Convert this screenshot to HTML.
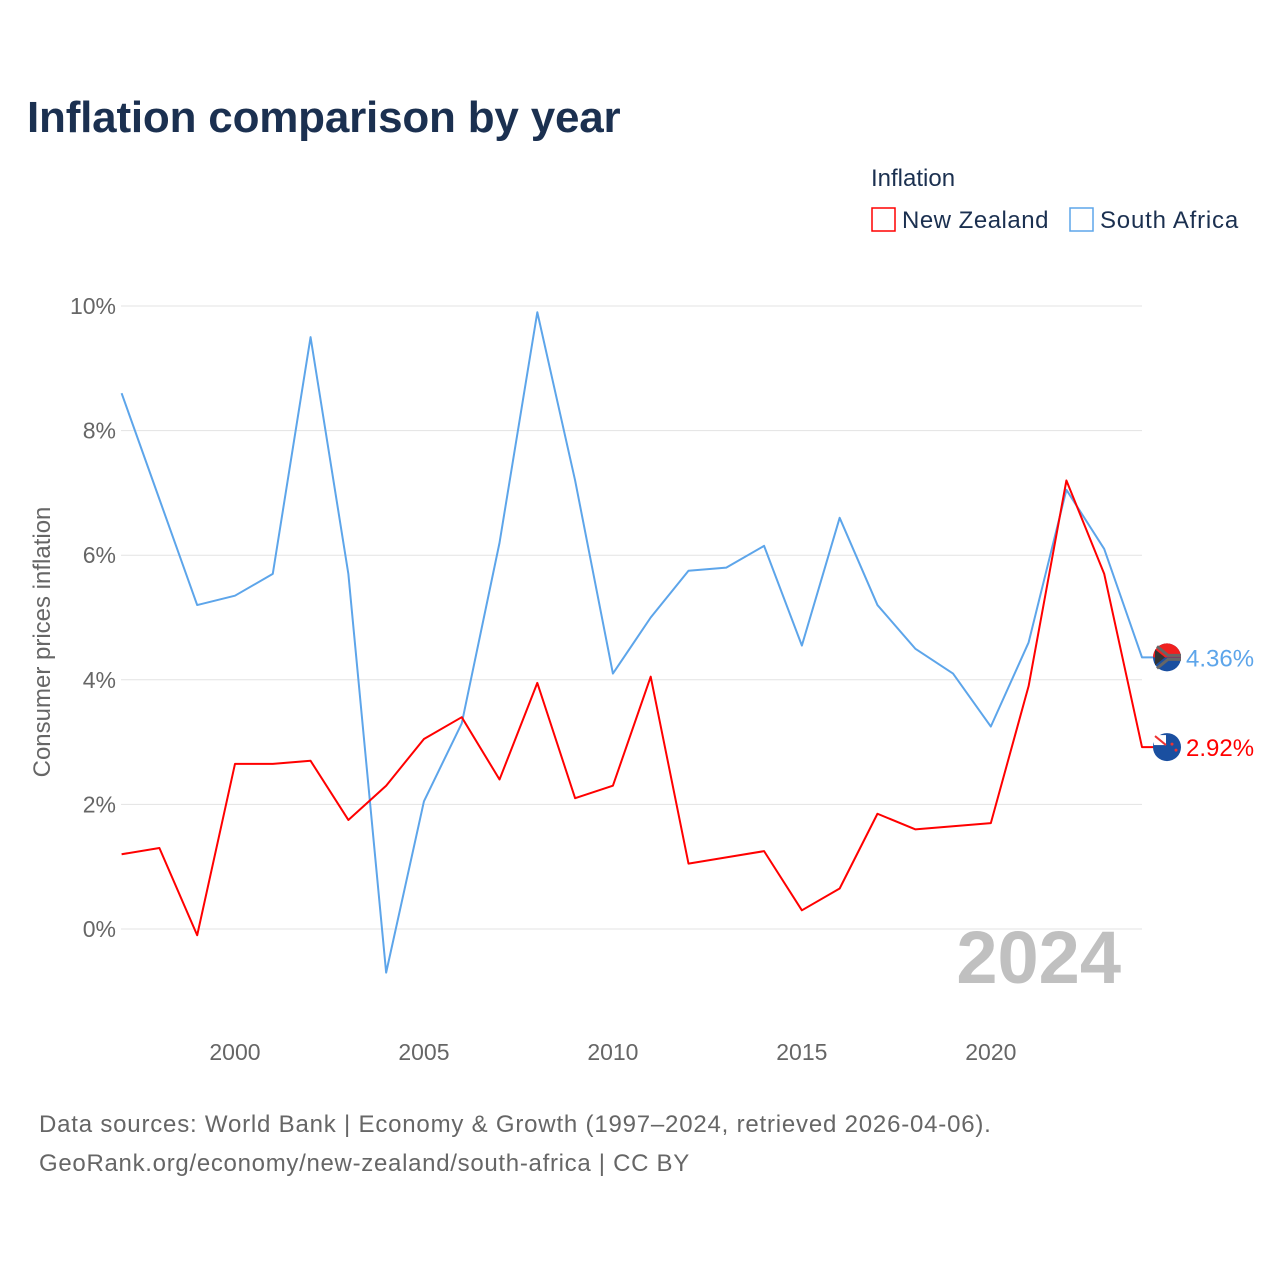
<!DOCTYPE html>
<html><head><meta charset="utf-8"><style>
body{margin:0;background:#fff;font-family:"Liberation Sans",sans-serif;}
</style></head><body>
<svg width="1280" height="1280" viewBox="0 0 1280 1280" xmlns="http://www.w3.org/2000/svg">
<text x="27" y="132" font-size="44" font-weight="bold" fill="#1b3050" letter-spacing="-0.2">Inflation comparison by year</text>
<text x="871" y="186" font-size="24" fill="#1b3050">Inflation</text>
<g><rect x="872" y="208" width="23" height="23" fill="#fff" stroke="#f00" stroke-width="1.5"/><text x="902" y="228" font-size="24" fill="#1b3050" letter-spacing="0.5">New Zealand</text></g>
<g><rect x="1070" y="208" width="23" height="23" fill="#fff" stroke="#5da5ea" stroke-width="1.5"/><text x="1100" y="228" font-size="24" fill="#1b3050" letter-spacing="0.8">South Africa</text></g>
<g id="grid"></g>
<text x="1121" y="983" font-size="74" font-weight="bold" fill="#c0c0c0" text-anchor="end">2024</text>
<text transform="translate(50,642) rotate(-90)" font-size="24" fill="#666" text-anchor="middle">Consumer prices inflation</text>
<g id="series"></g>
<text x="39" y="1132" font-size="24" fill="#666" letter-spacing="0.8">Data sources: World Bank | Economy &amp; Growth (1997–2024, retrieved 2026-04-06).</text>
<text x="39" y="1171" font-size="24" fill="#666" letter-spacing="0.7">GeoRank.org/economy/new-zealand/south-africa | CC BY</text>
</svg>
<script>
const years=[1997,1998,1999,2000,2001,2002,2003,2004,2005,2006,2007,2008,2009,2010,2011,2012,2013,2014,2015,2016,2017,2018,2019,2020,2021,2022,2023,2024];
const nzValues=[1.2,1.3,-0.1,2.65,2.65,2.7,1.75,2.3,3.05,3.4,2.4,3.95,2.1,2.3,4.05,1.05,1.15,1.25,0.3,0.65,1.85,1.6,1.65,1.7,3.9,7.2,5.7,2.92];
const saValues=[8.6,6.9,5.2,5.35,5.7,9.5,5.7,-0.7,2.05,3.3,6.2,9.9,7.2,4.1,5.0,5.75,5.8,6.15,4.55,6.6,5.2,4.5,4.1,3.25,4.6,7.05,6.1,4.36];
const yTicks=[0,2,4,6,8,10];
const xTicks=[2000,2005,2010,2015,2020];
const NS="http://www.w3.org/2000/svg";
const X=v=>121.6+(v-1997)*(1142-121.6)/27;
const Y=v=>929-v*62.3;
function mk(t,a,p){const e=document.createElementNS(NS,t);for(const k in a)e.setAttribute(k,a[k]);p.appendChild(e);return e;}
const grid=document.getElementById('grid');
yTicks.forEach(t=>{
 const l=mk('line',{x1:121,x2:1142,y1:Y(t),y2:Y(t),stroke:'#e3e3e3','stroke-width':1},grid);
 
 
 const tx=mk('text',{x:116,y:Y(t)+8,'font-size':23,fill:'#666','text-anchor':'end'},grid);tx.textContent=t+'%';
 
 
});
xTicks.forEach(t=>{
 const tx=mk('text',{x:X(t),y:1060,'font-size':23,fill:'#666','text-anchor':'middle'},grid);tx.textContent=t;
 
 
});
const S=document.getElementById('series');
function series(vals,col,name,flag){
 const pts=vals.map((v,i)=>X(years[i])+','+Y(vals[i])).join(' ');
 const last=vals[vals.length-1];
 const p=mk('polyline',{points:pts+' '+(X(2024)+12)+','+Y(last),fill:'none',stroke:col,'stroke-width':2,'stroke-linejoin':'round'},S);
 
 
 const g=mk('g',{},S);
 
 
 const cy=Y(last);
 if(flag==='sa'){
  mk('circle',{cx:1167,cy:cy,r:14,fill:'#1a4fa0'},g);
  mk('path',{d:`M1153,${cy} A14,14 0 0 1 1181,${cy} Z`,fill:'#f0201f'},g);
  mk('path',{d:`M1155,${cy-8} L1165,${cy} L1155,${cy+8} Z`,fill:'#333'},g);
  mk('path',{d:`M1157,${cy-11} L1168,${cy-2} H1181 M1157,${cy+11} L1168,${cy+2} H1181`,stroke:'#666','stroke-width':3,fill:'none'},g);
 } else {
  mk('circle',{cx:1167,cy:cy,r:14,fill:'#1a4fa0'},g);
  mk('rect',{x:1154,y:cy-12,width:12,height:10,fill:'#fff'},g);
  mk('path',{d:`M1155,${cy-11} L1166,${cy-2}`,stroke:'#e33','stroke-width':2},g);
  mk('circle',{cx:1172,cy:cy-3,r:1.5,fill:'#e33'},g);
  mk('circle',{cx:1176,cy:cy+3,r:1.5,fill:'#e33'},g);
 }
 const t=mk('text',{x:1186,y:cy+9,'font-size':24,fill:col},S);t.textContent=last.toFixed(2)+'%';
 
 
}
series(saValues,'#5da5ea','south-africa','sa');
series(nzValues,'#f00','new-zealand','nz');
</script>
</body></html>
